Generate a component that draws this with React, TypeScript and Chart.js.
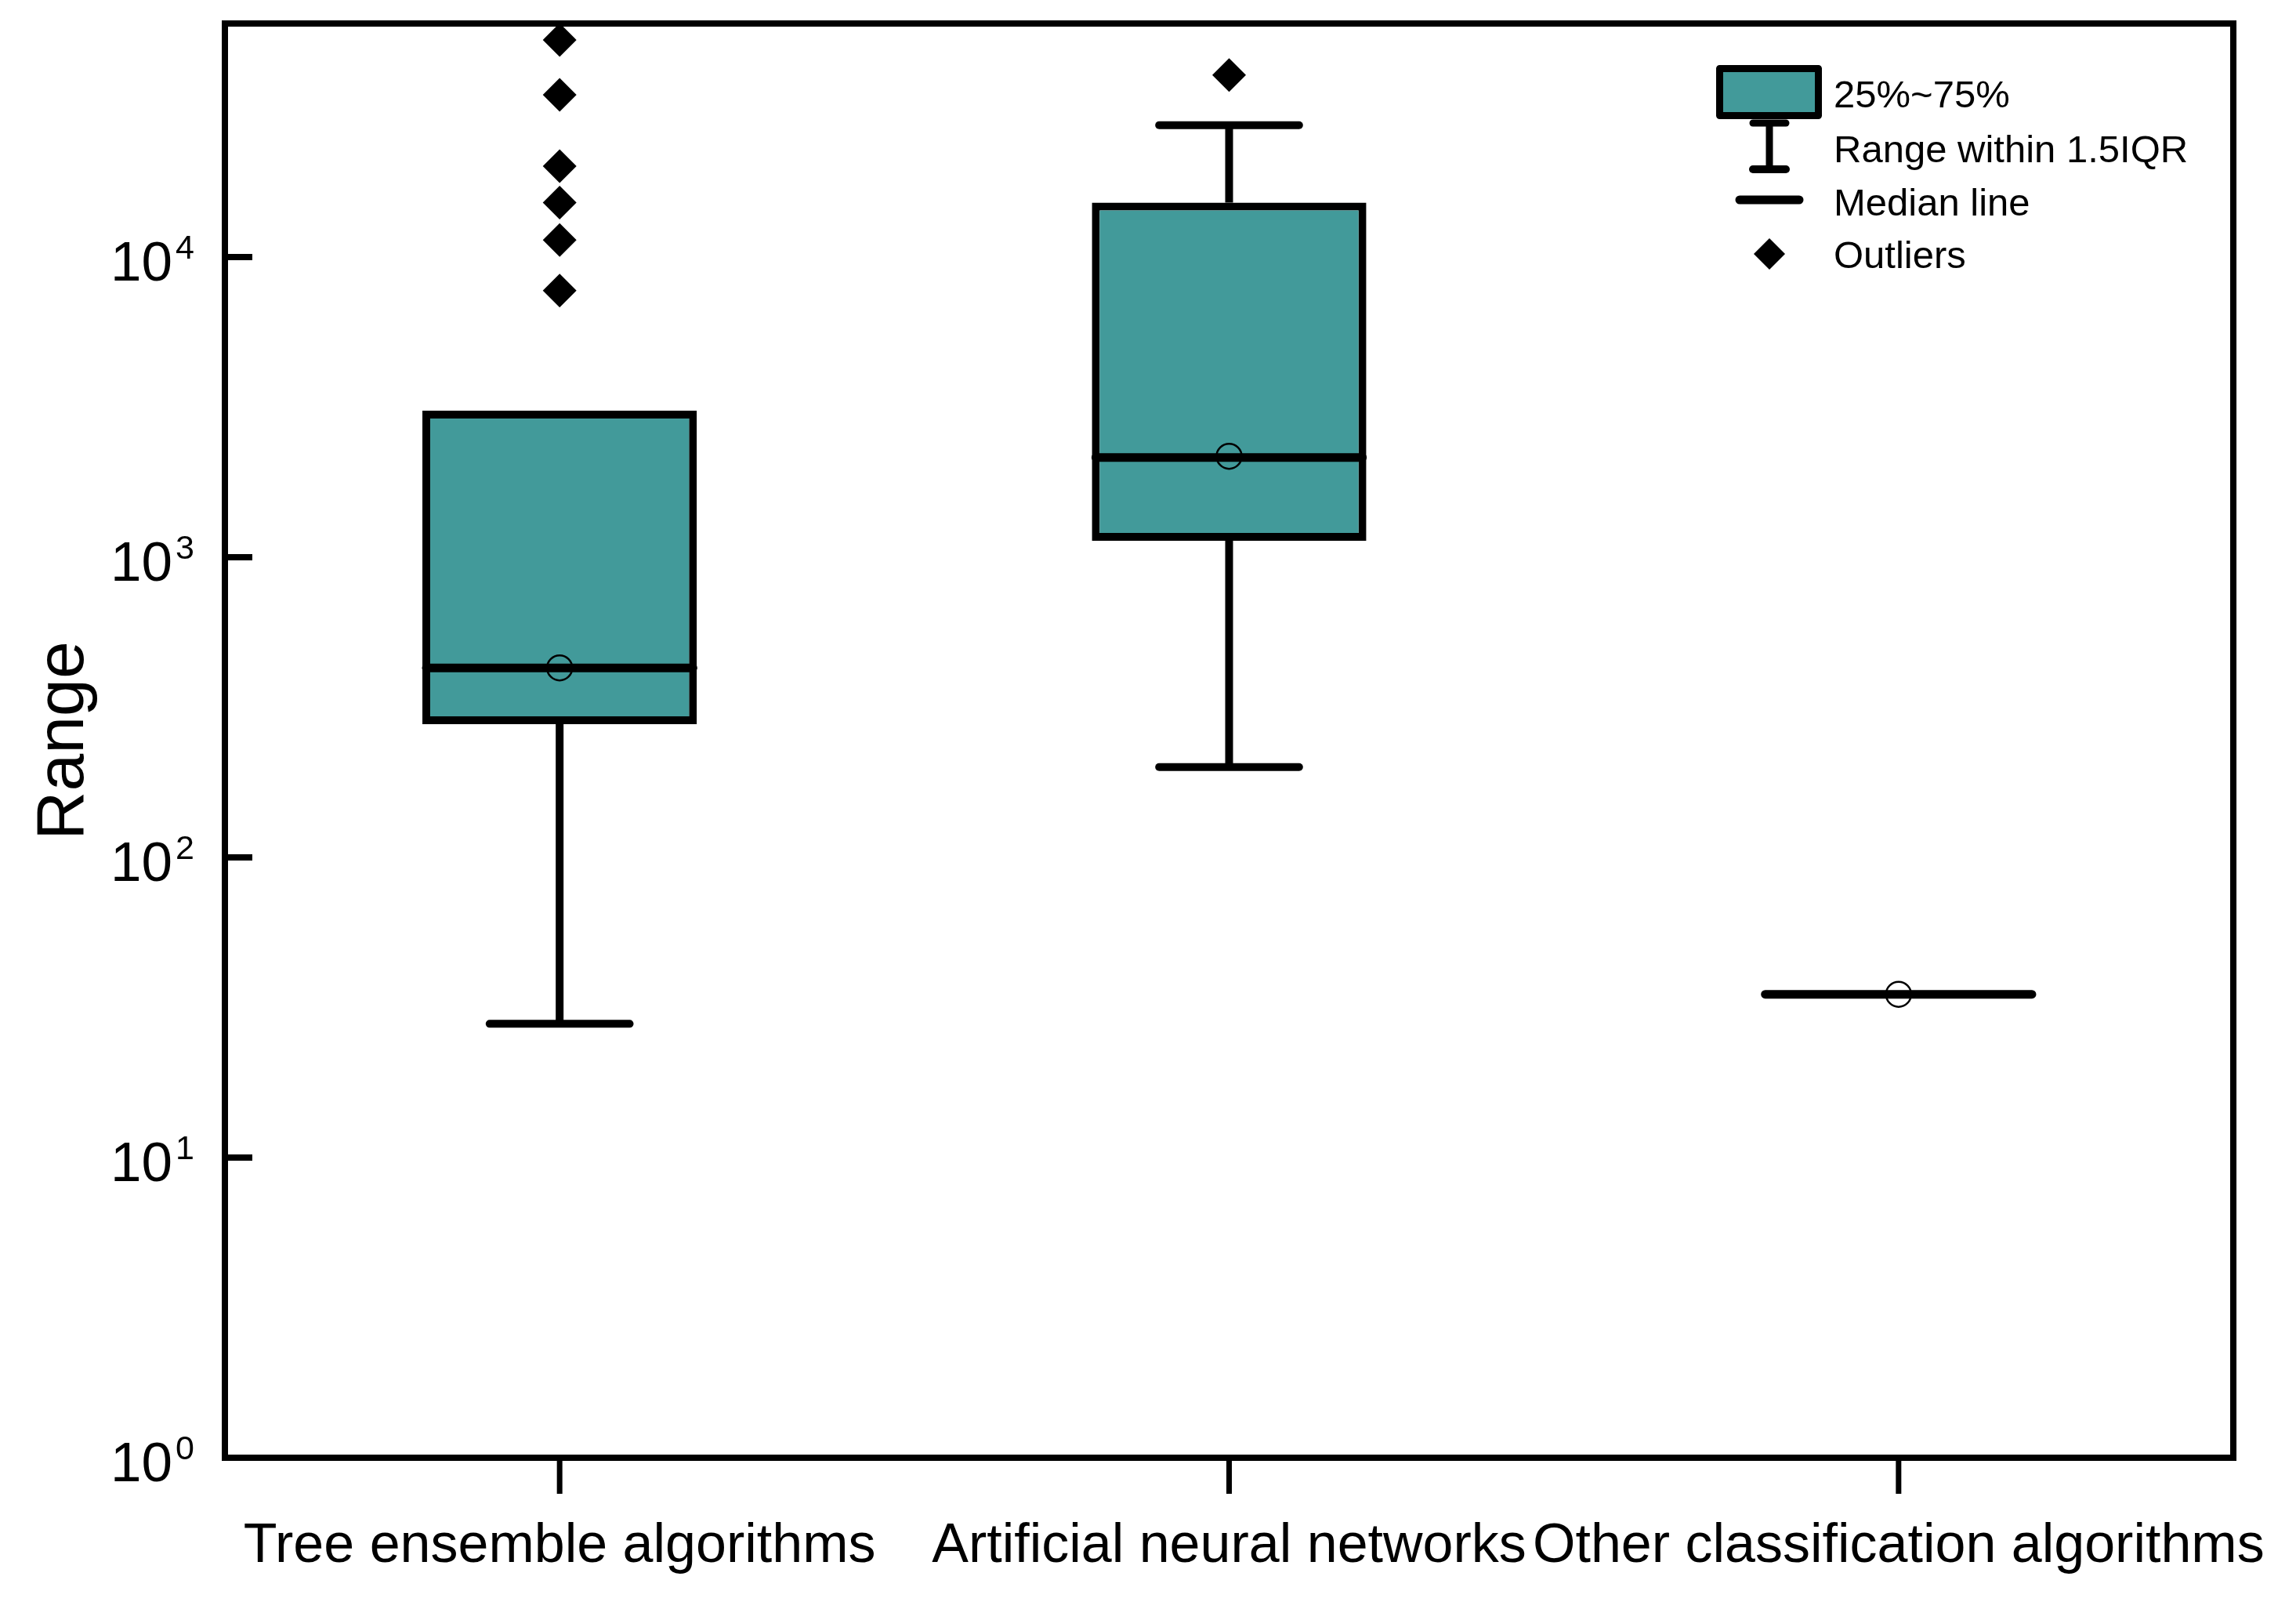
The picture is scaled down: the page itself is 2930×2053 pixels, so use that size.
import React, { useEffect, useRef } from "react";
import { Chart, registerables } from "chart.js";

Chart.register(...registerables);

// ---------------- data ----------------
const categories = [
  "Tree ensemble algorithms",
  "Artificial neural networks",
  "Other classification algorithms",
];
const q1Values = [278, 1135, 35];
const q3Values = [3080, 15200, 35];
const medianValues = [428, 2150, 35];
const meanValues = [428, 2170, 35];
const whiskerLowValues = [27.9, 200, 35];
const whiskerHighValues = [3080, 27500, 35];
const treeOutliers = [52900, 34700, 20100, 15200, 11400, 7730];
const annOutliers = [40400];
const otherOutliers: number[] = [];
const yTickValues = [1, 10, 100, 1000, 10000];
const yTickBases = ["10", "10", "10", "10", "10"];
const yTickExponents = ["0", "1", "2", "3", "4"];
const yAxisTitle = "Range";
const legendLabels = ["25%~75%", "Range within 1.5IQR", "Median line", "Outliers"];

const TEAL = "#429A9A";
const FONT = '"Liberation Sans", Arial, Helvetica, sans-serif';

const outlierGroups = [treeOutliers, annOutliers, otherOutliers];

const boxPlugin = {
  id: "boxExtras",
  afterDatasetDraw(chart: any, args: any) {
    if (args.index !== 0) return;
    const ctx = chart.ctx as CanvasRenderingContext2D;
    const xs = chart.scales.x;
    const ys = chart.scales.y;
    const meta = chart.getDatasetMeta(0);
    ctx.save();
    ctx.strokeStyle = "#000";
    categories.forEach((_, i) => {
      const cx = xs.getPixelForValue(i);
      const bw = (meta.data[i] as any).width;
      const capHalf = bw * 0.255;
      const yQ1 = ys.getPixelForValue(q1Values[i]);
      const yQ3 = ys.getPixelForValue(q3Values[i]);
      if (whiskerHighValues[i] > q3Values[i]) {
        const yH = ys.getPixelForValue(whiskerHighValues[i]);
        ctx.lineWidth = 10;
        ctx.lineCap = "butt";
        ctx.beginPath();
        ctx.moveTo(cx, yQ3);
        ctx.lineTo(cx, yH);
        ctx.stroke();
        ctx.lineCap = "round";
        ctx.beginPath();
        ctx.moveTo(cx - capHalf, yH);
        ctx.lineTo(cx + capHalf, yH);
        ctx.stroke();
      }
      if (whiskerLowValues[i] < q1Values[i]) {
        const yL = ys.getPixelForValue(whiskerLowValues[i]);
        ctx.lineWidth = 10;
        ctx.lineCap = "butt";
        ctx.beginPath();
        ctx.moveTo(cx, yQ1);
        ctx.lineTo(cx, yL);
        ctx.stroke();
        ctx.lineCap = "round";
        ctx.beginPath();
        ctx.moveTo(cx - capHalf, yL);
        ctx.lineTo(cx + capHalf, yL);
        ctx.stroke();
      }
      const yM = ys.getPixelForValue(medianValues[i]);
      ctx.lineWidth = 11;
      ctx.lineCap = "round";
      ctx.beginPath();
      ctx.moveTo(cx - bw / 2 + 5, yM);
      ctx.lineTo(cx + bw / 2 - 5, yM);
      ctx.stroke();
    });
    ctx.restore();
  },
  afterDraw(chart: any) {
    const ctx = chart.ctx as CanvasRenderingContext2D;
    const area = chart.chartArea;
    const xs = chart.scales.x;
    const ys = chart.scales.y;
    ctx.save();
    ctx.strokeStyle = "#000";
    ctx.fillStyle = "#000";
    // frame
    ctx.lineWidth = 8;
    ctx.lineJoin = "miter";
    ctx.strokeRect(area.left, area.top, area.right - area.left, area.bottom - area.top);

    // y ticks
    ctx.lineCap = "butt";
    yTickValues.forEach((v, i) => {
      const y = ys.getPixelForValue(v);
      ctx.lineWidth = 8;
      ctx.beginPath();
      ctx.moveTo(area.left, y);
      ctx.lineTo(area.left + 35, y);
      ctx.stroke();
      ctx.font = `71px ${FONT}`;
      const wBase = ctx.measureText(yTickBases[i]).width;
      ctx.font = `43px ${FONT}`;
      const wExp = ctx.measureText(yTickExponents[i]).width;
      const right = area.left - 39;
      const xExp = right - wExp;
      const xBase = xExp - 4 - wBase;
      ctx.textAlign = "left";
      ctx.textBaseline = "alphabetic";
      ctx.font = `71px ${FONT}`;
      ctx.fillText(yTickBases[i], xBase, y + 30);
      ctx.font = `43px ${FONT}`;
      ctx.fillText(yTickExponents[i], xExp, y + 2);
    });

    // x ticks and labels
    categories.forEach((c, i) => {
      const x = xs.getPixelForValue(i);
      ctx.lineWidth = 7;
      ctx.beginPath();
      ctx.moveTo(x, area.bottom);
      ctx.lineTo(x, area.bottom + 46);
      ctx.stroke();
      ctx.font = `70px ${FONT}`;
      ctx.textAlign = "center";
      ctx.textBaseline = "alphabetic";
      ctx.fillText(c, x, area.bottom + 133);
    });

    // y axis title
    ctx.save();
    ctx.translate(106, (area.top + area.bottom) / 2);
    ctx.rotate(-Math.PI / 2);
    ctx.font = `86px ${FONT}`;
    ctx.textAlign = "center";
    ctx.textBaseline = "alphabetic";
    ctx.fillText(yAxisTitle, 0, 0);
    ctx.restore();

    // legend
    const lx = area.right - 660;
    const ly = area.top + 53;
    const iconCx = lx + 68;
    ctx.fillStyle = TEAL;
    ctx.fillRect(lx + 4, ly + 4, 127, 61);
    ctx.lineWidth = 9;
    ctx.lineJoin = "round";
    ctx.strokeRect(lx + 4.5, ly + 4.5, 126, 60);
    // whisker icon
    ctx.lineCap = "round";
    ctx.lineWidth = 9;
    ctx.beginPath();
    ctx.moveTo(iconCx - 21, ly + 74);
    ctx.lineTo(iconCx + 21, ly + 74);
    ctx.stroke();
    ctx.lineCap = "butt";
    ctx.beginPath();
    ctx.moveTo(iconCx, ly + 74);
    ctx.lineTo(iconCx, ly + 133);
    ctx.stroke();
    ctx.lineCap = "round";
    ctx.lineWidth = 10;
    ctx.beginPath();
    ctx.moveTo(iconCx - 21, ly + 133);
    ctx.lineTo(iconCx + 21, ly + 133);
    ctx.stroke();
    // median icon
    ctx.lineWidth = 11;
    ctx.beginPath();
    ctx.moveTo(iconCx - 38, ly + 172);
    ctx.lineTo(iconCx + 38, ly + 172);
    ctx.stroke();
    // diamond icon
    ctx.fillStyle = "#000";
    ctx.beginPath();
    const dy = ly + 241;
    ctx.moveTo(iconCx, dy - 20);
    ctx.lineTo(iconCx + 20, dy);
    ctx.lineTo(iconCx, dy + 20);
    ctx.lineTo(iconCx - 20, dy);
    ctx.closePath();
    ctx.fill();
    // legend texts
    ctx.font = `49px ${FONT}`;
    ctx.textAlign = "left";
    ctx.textBaseline = "alphabetic";
    const tx = lx + 150;
    const baselines = [ly + 54, ly + 124, ly + 192, ly + 259];
    legendLabels.forEach((t, i) => ctx.fillText(t, tx, baselines[i]));
    ctx.restore();
  },
};

export default function App() {
  const ref = useRef<HTMLCanvasElement | null>(null);
  useEffect(() => {
    if (!ref.current) return;
    const chart = new Chart(ref.current, {
      type: "bar",
      data: {
        labels: categories,
        datasets: [
          {
            type: "bar",
            data: q1Values.map((v, i) => [v, q3Values[i]]) as any,
            backgroundColor: TEAL,
            borderColor: "#000",
            borderWidth: 10,
            borderSkipped: false,
            barPercentage: 0.41,
            categoryPercentage: 1,
            order: 3,
          } as any,
          {
            type: "scatter",
            data: outlierGroups.flatMap((g, i) => g.map((v) => ({ x: categories[i], y: v }))) as any,
            pointStyle: "rectRot",
            pointRadius: 21.5,
            pointBackgroundColor: "#000",
            pointBorderWidth: 0,
            showLine: false,
            order: 2,
          } as any,
          {
            type: "scatter",
            data: meanValues.map((v, i) => ({ x: categories[i], y: v })) as any,
            pointStyle: "circle",
            pointRadius: 16,
            pointBackgroundColor: "rgba(0,0,0,0)",
            pointBorderColor: "#000",
            pointBorderWidth: 2.5,
            showLine: false,
            order: 1,
          } as any,
        ],
      },
      options: {
        responsive: false,
        animation: false,
        devicePixelRatio: 1,
        events: [],
        layout: { padding: { left: 0, top: 30, right: 80, bottom: 0 } },
        plugins: {
          legend: { display: false },
          tooltip: { enabled: false },
        },
        scales: {
          x: {
            type: "category",
            labels: categories,
            offset: true,
            grid: { display: false },
            border: { display: false },
            ticks: { display: false },
            afterFit: (s: any) => {
              s.height = 193;
            },
          },
          y: {
            type: "logarithmic",
            min: 1,
            max: 60000,
            grid: { display: false },
            border: { display: false },
            ticks: { display: false },
            afterFit: (s: any) => {
              s.width = 287;
            },
          },
        },
      } as any,
      plugins: [boxPlugin],
    });
    return () => chart.destroy();
  }, []);
  return (
    <div style={{ position: "fixed", left: 0, top: 0, width: 2930, height: 2053, background: "#fff" }}>
      <canvas ref={ref} width={2930} height={2053} style={{ display: "block" }} />
    </div>
  );
}
